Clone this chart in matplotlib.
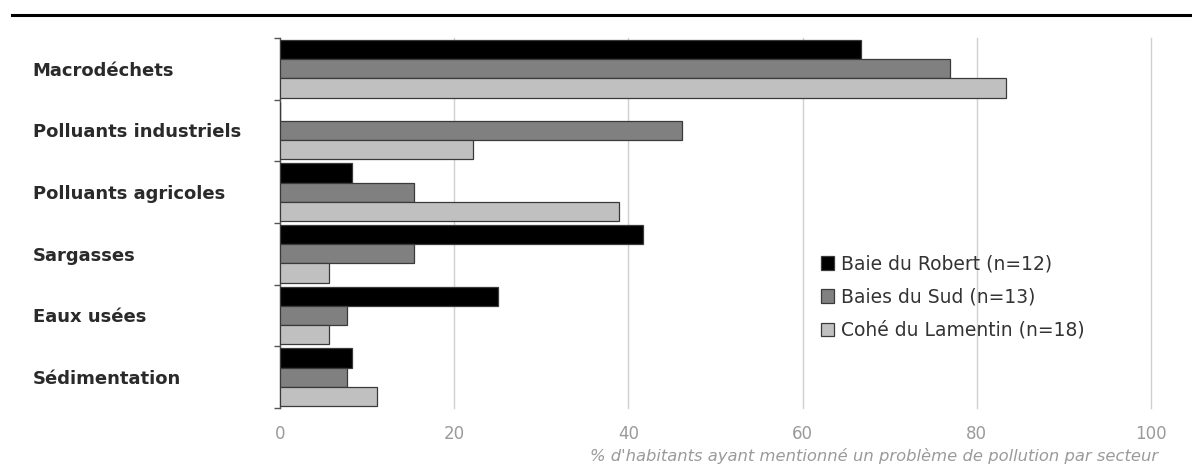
import numpy as np
import matplotlib
matplotlib.use("Agg")
import matplotlib.pyplot as plt
from matplotlib.lines import Line2D
from matplotlib.patches import Patch

# ------------------- Data -------------------
categories = ["Macrodéchets", "Polluants industriels", "Polluants agricoles",
              "Sargasses", "Eaux usées", "Sédimentation"]
robert   = [66.7, 0.0, 8.3, 41.7, 25.0, 8.3]
sud      = [76.9, 46.2, 15.4, 15.4, 7.7, 7.7]
lamentin = [83.3, 22.2, 38.9, 5.6, 5.6, 11.1]
series_names = ["Baie du Robert (n=12)", "Baies du Sud (n=13)", "Cohé du Lamentin (n=18)"]
series_colors = ["#000000", "#808080", "#c0c0c0"]
x_ticks = [0, 20, 40, 60, 80, 100]

plt.rcParams['font.family'] = ['DejaVu Sans']

fig = plt.figure(figsize=(11.92, 4.72), dpi=100)
ax = fig.add_axes([0.2349, 0.1356, 0.7307, 0.7839])

# ------------------- Bars -------------------
y = np.arange(len(categories))
h = 0.31
for i, (vals, col) in enumerate(zip([robert, sud, lamentin], series_colors)):
    ax.barh(y + (i - 1) * h, vals, height=h, color=col,
            edgecolor="#3a3a3a", linewidth=0.9, zorder=3)

ax.set_xlim(0, 100)
ax.set_ylim(len(categories) - 0.5, -0.5)

# grid
ax.set_xticks(x_ticks)
ax.xaxis.grid(True, color="#d0d0d0", linewidth=1.0, zorder=0)
for gl in ax.get_xgridlines():
    gl.set_clip_on(False)
ax.tick_params(axis="x", length=0, pad=12, labelsize=12, labelcolor="#9a9a9a")

# y axis: labels left aligned, ticks at group boundaries
ax.set_yticks(y)
ax.set_yticklabels(categories, fontsize=13, fontweight="bold", color="#2a2a2a")
ax.tick_params(axis="y", which="major", length=0, pad=178)
for lbl in ax.get_yticklabels():
    lbl.set_horizontalalignment("left")
ax.set_yticks(np.arange(len(categories) + 1) - 0.5, minor=True)
ax.tick_params(axis="y", which="minor", length=4, color="#555555", width=1)

for s in ["top", "right", "bottom"]:
    ax.spines[s].set_visible(False)
ax.spines["left"].set_color("#555555")
ax.spines["left"].set_linewidth(1.0)

ax.set_xlabel("% d'habitants ayant mentionné un problème de pollution par secteur",
              fontsize=11.8, style="italic", color="#9a9a9a", loc="right", labelpad=4)
ax.xaxis.label.set_x(1.008)

# ------------------- Legend -------------------
handles = [Patch(facecolor=c, edgecolor="#3a3a3a", linewidth=0.9) for c in series_colors]
leg = ax.legend(handles, series_names, loc="upper left", bbox_to_anchor=(0.612, 0.435),
                frameon=False, fontsize=13.5, handlelength=0.7, handleheight=0.7,
                handletextpad=0.4, labelspacing=0.75, borderaxespad=0)
for t in leg.get_texts():
    t.set_color("#333333")

# top rule
fig.add_artist(Line2D([0.01, 1.0], [0.968, 0.968], color="black", linewidth=2.2))

fig.savefig("out.png", dpi=100)
